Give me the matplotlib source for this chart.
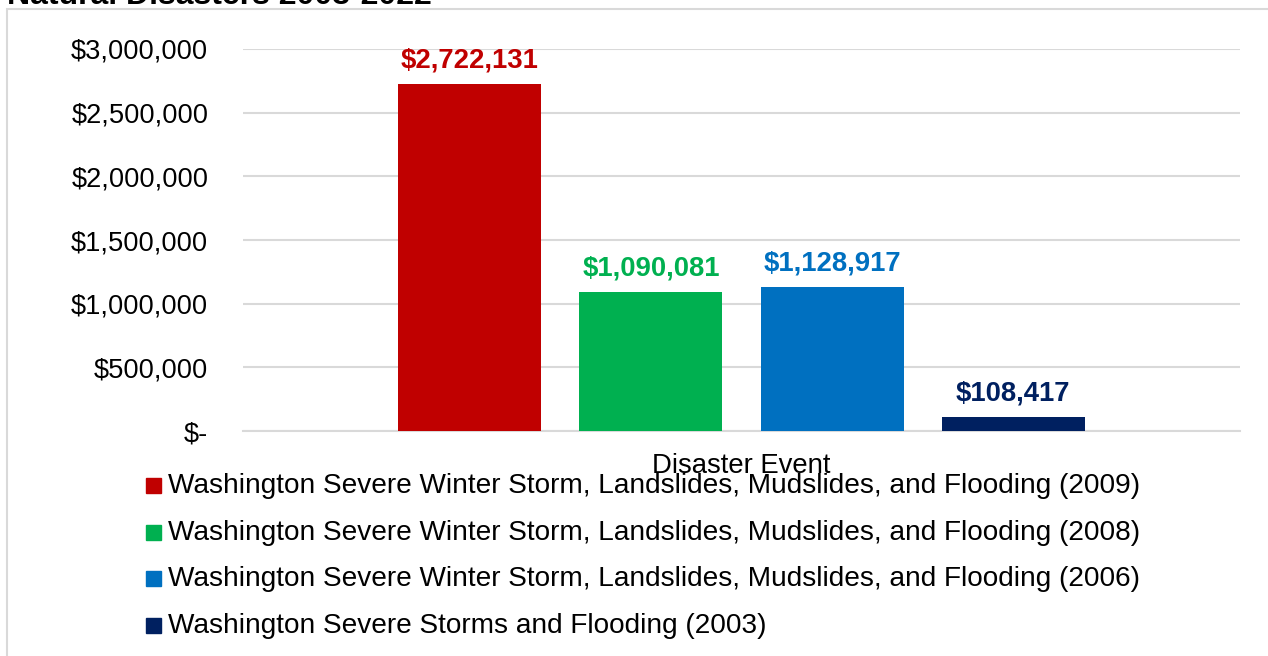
import matplotlib.pyplot as plt
from matplotlib.patches import Rectangle
from matplotlib.ticker import FuncFormatter

plt.rcParams['font.family'] = ['Liberation Sans', 'DejaVu Sans']

# disaster events and their costs
events = [
    'Washington Severe Winter Storm, Landslides, Mudslides, and Flooding (2009)',
    'Washington Severe Winter Storm, Landslides, Mudslides, and Flooding (2008)',
    'Washington Severe Winter Storm, Landslides, Mudslides, and Flooding (2006)',
    'Washington Severe Storms and Flooding (2003)',
]
costs = [2722131, 1090081, 1128917, 108417]
colors = ['#c00000', '#00b050', '#0070c0', '#002060']
yticks = [0, 500000, 1000000, 1500000, 2000000, 2500000, 3000000]

W, H = 1268, 656
fig = plt.figure(figsize=(W / 100, H / 100), dpi=100)

# outer chart frame
fig.patches.append(Rectangle((7 / W, -0.05), 1.1, 1 - 9 / H + 0.05,
                             transform=fig.transFigure, fill=False,
                             edgecolor='#d9d9d9', linewidth=1.5))
fig.text(7 / W, 1 - 4 / H, 'Natural Disasters 2003-2022', fontsize=23,
         fontweight='bold', ha='left', va='baseline', color='black')

ax = fig.add_axes([243 / W, 1 - 431 / H, 997 / W, (431 - 49) / H])

xs = [i - 1.5 for i in range(len(costs))]
bars = ax.bar(xs, costs, width=0.79, color=colors, zorder=3)
for x, v, c in zip(xs, costs, colors):
    ax.annotate(f'${v:,.0f}', (x, v), xytext=(0, 12), textcoords='offset points',
                ha='center', va='baseline', fontsize=19.8, fontweight='bold', color=c)

ax.set_xlim(-2.754, 2.754)
ax.set_ylim(0, 3000000)
ax.set_xticks([])
ax.set_yticks(yticks)
ax.yaxis.set_major_formatter(FuncFormatter(lambda v, p: '$-' if v == 0 else f'${v:,.0f}'))
ax.tick_params(axis='y', length=0, pad=25, labelsize=19.6)
ax.grid(axis='y', color='#d9d9d9', linewidth=1.5, zorder=0)
for s in ['top', 'right', 'left']:
    ax.spines[s].set_visible(False)
ax.spines['bottom'].set_color('#d9d9d9')
ax.spines['bottom'].set_linewidth(1.5)

fig.text(741 / W, 1 - 473 / H, 'Disaster Event', ha='center', va='baseline',
         fontsize=19.8)

# legend rows
y0, step = 493, 46.7
for i, (lab, c) in enumerate(zip(events, colors)):
    yb = y0 + i * step
    fig.patches.append(Rectangle((146 / W, 1 - yb / H), 15 / W, 15 / H,
                                 transform=fig.transFigure, color=c))
    fig.text(168 / W, 1 - yb / H, lab, ha='left', va='baseline', fontsize=20.2)

fig.savefig('out.png', dpi=100)
